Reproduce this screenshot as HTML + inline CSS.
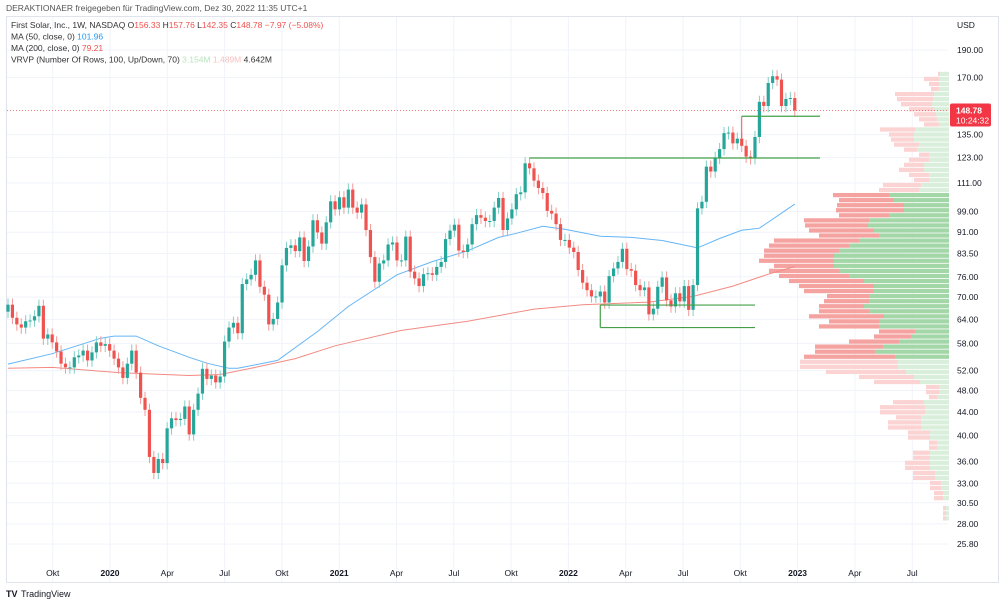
<!DOCTYPE html>
<html><head><meta charset="utf-8">
<style>
body{margin:0;background:#fff;width:1000px;height:605px;overflow:hidden;font-family:"Liberation Sans",sans-serif}
svg{display:block}
text{font-family:"Liberation Sans",sans-serif}
</style></head>
<body>
<svg id="chart" width="1000" height="605" viewBox="0 0 1000 605" xmlns="http://www.w3.org/2000/svg">
<text x="6" y="11" font-size="8.5" fill="#555">DERAKTIONAER freigegeben für TradingView.com, Dez 30, 2022 11:35 UTC+1</text>
<rect x="6.5" y="16.5" width="992" height="566" fill="none" stroke="#e0e3eb"/>
<g id="grid"></g>
<g id="profile"></g>
<g id="mas"></g>
<g id="candles"></g>
<g id="levels"></g>
<g id="axes"></g>
<g font-size="8.5">
<text x="11" y="28" fill="#333">First Solar, Inc., 1W, NASDAQ <tspan fill="#333">O</tspan><tspan fill="#ef5350">156.33</tspan> H<tspan fill="#ef5350">157.76</tspan> L<tspan fill="#ef5350">142.35</tspan> C<tspan fill="#ef5350">148.78</tspan> <tspan fill="#ef5350">−7.97 (−5.08%)</tspan></text>
<text x="11" y="39.5" fill="#333">MA (50, close, 0) <tspan fill="#2196f3">101.96</tspan></text>
<text x="11" y="51" fill="#333">MA (200, close, 0) <tspan fill="#ef5350">79.21</tspan></text>
<text x="11" y="62.5" fill="#333">VRVP (Number Of Rows, 100, Up/Down, 70) <tspan fill="#b9e4c0">3.154M</tspan> <tspan fill="#f8c0c0">1.489M</tspan> 4.642M</text>
</g>
<g>
<text x="6" y="597" font-size="9" font-weight="bold" fill="#131722">TV</text>
<text x="21" y="597" font-size="9" fill="#131722">TradingView</text>
</g>
</svg>
<script>
// ---- data ----
const closes = [67.9,64.4,62.7,61.9,63.5,63.7,64.8,67.6,59.2,60.2,58.3,56.2,53.5,52.7,52.7,54.9,55.3,56.4,54.2,56.0,58.3,57.5,57.9,56.4,54.6,52.7,50.5,53.5,56.4,51.6,46.6,44.4,36.7,34.4,36.4,35.8,41.2,42.9,42.6,42.8,45.0,40.2,44.4,47.4,52.4,50.3,51.0,49.6,50.8,58.5,61.9,63.1,60.5,73.8,75.2,76.6,81.2,73.0,70.7,62.7,64.1,68.5,79.6,85.4,86.3,84.3,89.1,81.0,85.9,95.5,90.9,86.9,94.7,103.1,99.8,104.8,100.5,108.1,100.5,98.5,101.8,91.8,82.3,74.5,80.2,81.2,86.6,87.3,81.2,81.2,89.4,77.6,75.5,73.2,76.8,77.1,76.6,79.1,80.7,88.5,91.6,93.8,84.5,84.0,86.6,94.0,97.5,96.5,95.2,95.2,100.5,104.5,91.8,96.2,99.8,106.1,106.9,120.2,117.8,112.1,108.8,106.6,99.2,98.1,94.0,88.2,88.2,85.5,84.0,78.1,74.2,72.0,70.2,70.2,71.6,68.5,76.2,78.6,80.7,85.1,78.4,77.9,73.5,72.0,72.8,65.3,66.8,73.0,75.8,69.1,67.4,71.1,68.8,73.2,66.5,73.5,100.2,102.9,118.6,116.3,122.9,127.3,135.8,136.1,130.3,132.8,129.0,123.5,122.7,133.7,154.1,151.5,166.3,170.9,168.6,151.5,155.9,156.5,148.78];
const firstOpen = 66.0;
const ma50Weeks = [0,10,21,24,29,34,41,45,50,52,61,70,77,88,96,104,111,115,121,126,134,141,148,156,161,166,170,178];
const ma50Values = [53.4,55.7,59.3,59.8,59.8,57.5,54.9,53.6,52.5,52.5,54.2,60.9,67.4,76.6,80.8,84.4,89.1,90.6,93.2,92.1,89.5,89.1,88.0,85.4,88.7,91.7,92.5,101.96];
const ma200Weeks = [0,10,25,41,48,55,65,74,89,104,119,130,145,155,164,172,178];
const ma200Values = [52.5,52.7,51.6,51.0,51.2,52.5,54.6,57.5,61.2,63.5,66.7,67.9,68.6,70.2,73.2,76.8,79.21];
// volume profile rows, top (high price) to bottom
const profileTopPrice = 174, profileBottomPrice = 28.3;
const profileTotal = [11,25,20,18,54,52,48,40,35,30,25,69,60,58,55,45,30,40,45,50,40,35,66,70,116,110,112,113,110,145,144,140,130,175,180,185,185,190,175,180,170,160,150,145,122,125,130,130,140,120,130,70,75,100,134,134,145,149,149,123,90,75,23,23,20,56,69,69,53,61,61,41,41,20,20,36,36,44,44,36,36,19,19,15,15,0,6,6,6];
const profileUp = [9,10,10,10,15,16,17,15,13,12,10,34,35,35,30,32,20,20,25,25,20,20,28,30,60,55,45,45,60,80,81,75,70,90,100,110,115,115,115,110,100,85,75,75,80,80,85,80,65,70,70,34,38,50,66,74,54,51,51,43,35,29,10,10,12,25,24,24,28,28,28,19,19,12,12,19,19,19,19,14,14,8,8,6,6,0,3,3,3];
const valueAreaHigh = 106, valueAreaLow = 54.5;
const priceTicks = [190,170,135,123,111,99,91,83.5,76,70,64,58,52,48,44,40,36,33,30.5,28,25.8];
const timeLabels = ["Okt","2020","Apr","Jul","Okt","2021","Apr","Jul","Okt","2022","Apr","Jul","Okt","2023","Apr","Jul"];
const timeQuarter = [-1,0,1,2,3,4,5,6,7,8,9,10,11,12,13,14];
// [price, startWeek, endWeek]
const hLevels = [[122.8,118,183.7],[145.4,166,183.7],[67.8,134,169],[61.9,134,169]];

// ---- scales ----
const NS="http://www.w3.org/2000/svg";
const yOf = p => 50 + (Math.log(190) - Math.log(p)) * 247.5;
const xOf = i => 8 + i * 4.42;
const xQ = q => 110 + q * 57.3;
function mk(tag, attrs, parent){const e=document.createElementNS(NS,tag);for(const k in attrs)e.setAttribute(k,attrs[k]);parent.appendChild(e);return e;}
const grid=document.getElementById('grid'), axes=document.getElementById('axes');

priceTicks.forEach(p=>{
  const y=yOf(p);
  const gl=mk('line',{x1:7,x2:948,y1:y,y2:y,stroke:'#f0f3fa','stroke-width':1},grid);
  
  
  const t=mk('text',{x:957,y:y+3,'font-size':8.5,fill:'#131722'},axes);
  t.textContent=p.toFixed(2);
  
  
});
const usd=mk('text',{x:957,y:28,'font-size':8.5,fill:'#131722'},axes);
usd.textContent='USD';


timeLabels.forEach((lab,i)=>{
  const x=xQ(timeQuarter[i]);
  const gl=mk('line',{x1:x,x2:x,y1:17,y2:582,stroke:'#f0f3fa','stroke-width':1},grid);
  
  
  const bold=/^\d/.test(lab);
  const t=mk('text',{x:x,y:576,'font-size':8.5,'text-anchor':'middle',fill:'#131722','font-weight':bold?'bold':'normal'},axes);
  t.textContent=lab;
  
  
});

// volume profile
const prof=document.getElementById('profile');
const nRows=profileTotal.length, lt=Math.log(profileTopPrice), lb=Math.log(profileBottomPrice);
for(let i=0;i<nRows;i++){
  const pTop=Math.exp(lt-(lt-lb)*i/nRows), pBot=Math.exp(lt-(lt-lb)*(i+1)/nRows);
  const y1=yOf(pTop), y2=yOf(pBot), h=Math.max(0.5,y2-y1-0.8);
  const pm=Math.sqrt(pTop*pBot), inVA=pm<=valueAreaHigh&&pm>=valueAreaLow;
  const R=949;
  const tot=profileTotal[i], up=profileUp[i];
  const rd=mk('rect',{x:R-tot,y:y1,width:tot-up,height:h,fill:inVA?'#f5a3a0':'#fbd3d2'},prof);
  
  
  const gr=mk('rect',{x:R-up,y:y1,width:up,height:h,fill:inVA?'#a3d7a8':'#d9efdc'},prof);
  
  
}

// moving averages
const mas=document.getElementById('mas');
function maPath(ws,vs,col,name){
  const d=ws.map((w,i)=>(i?'L':'M')+xOf(w).toFixed(1)+' '+yOf(vs[i]).toFixed(1)).join(' ');
  const p=mk('path',{d:d,fill:'none',stroke:col,'stroke-width':1},mas);
  
  
}
maPath(ma50Weeks,ma50Values,'#64b5f6','ma50-line');
maPath(ma200Weeks,ma200Values,'#f28b82','ma200-line');

// candles
const cg=document.getElementById('candles');
closes.forEach((c,i)=>{
  const o=i?closes[i-1]:firstOpen;
  const up=c>=o, col=up?'#26a69a':'#ef5350';
  const hi=Math.max(o,c)*1.025, lo=Math.min(o,c)*0.975;
  const x=xOf(i);
  const w=mk('line',{x1:x,x2:x,y1:yOf(hi),y2:yOf(lo),stroke:up?'#7fcfc6':'#f49a98','stroke-width':1},cg);
  
  
  const yt=yOf(Math.max(o,c)), yb=yOf(Math.min(o,c));
  const b=mk('rect',{x:x-1.6,y:yt,width:3.2,height:Math.max(1,yb-yt),fill:col},cg);
  
  
});

// horizontal levels
const lv=document.getElementById('levels');
hLevels.forEach(([p,a,b])=>{
  const y=yOf(p);
  const l=mk('line',{x1:xOf(a),x2:xOf(b),y1:y,y2:y,stroke:'#43a047','stroke-width':1.2},lv);
  
  
});
const v1=mk('line',{x1:xOf(134),x2:xOf(134),y1:yOf(67.8),y2:yOf(61.9),stroke:'#43a047','stroke-width':1.2},lv);


const v2=mk('line',{x1:xOf(166),x2:xOf(166),y1:yOf(145.4),y2:yOf(133),stroke:'#ef5350','stroke-width':1},lv);



// last price line + label
const last=closes[closes.length-1], ly=yOf(last);
const pl=mk('line',{x1:7,x2:948,y1:ly,y2:ly,stroke:'#ef5350','stroke-width':0.8,'stroke-dasharray':'1 2'},lv);


const pb=mk('rect',{x:950,y:ly-7,width:41,height:23,rx:2,fill:'#f23645'},axes);


const t1=mk('text',{x:956,y:ly+3,'font-size':8.5,'font-weight':'bold',fill:'#fff'},axes);
t1.textContent=last.toFixed(2);


const t2=mk('text',{x:956,y:ly+13,'font-size':8.5,fill:'#fff'},axes);
t2.textContent='10:24:32';


</script>
</body></html>
